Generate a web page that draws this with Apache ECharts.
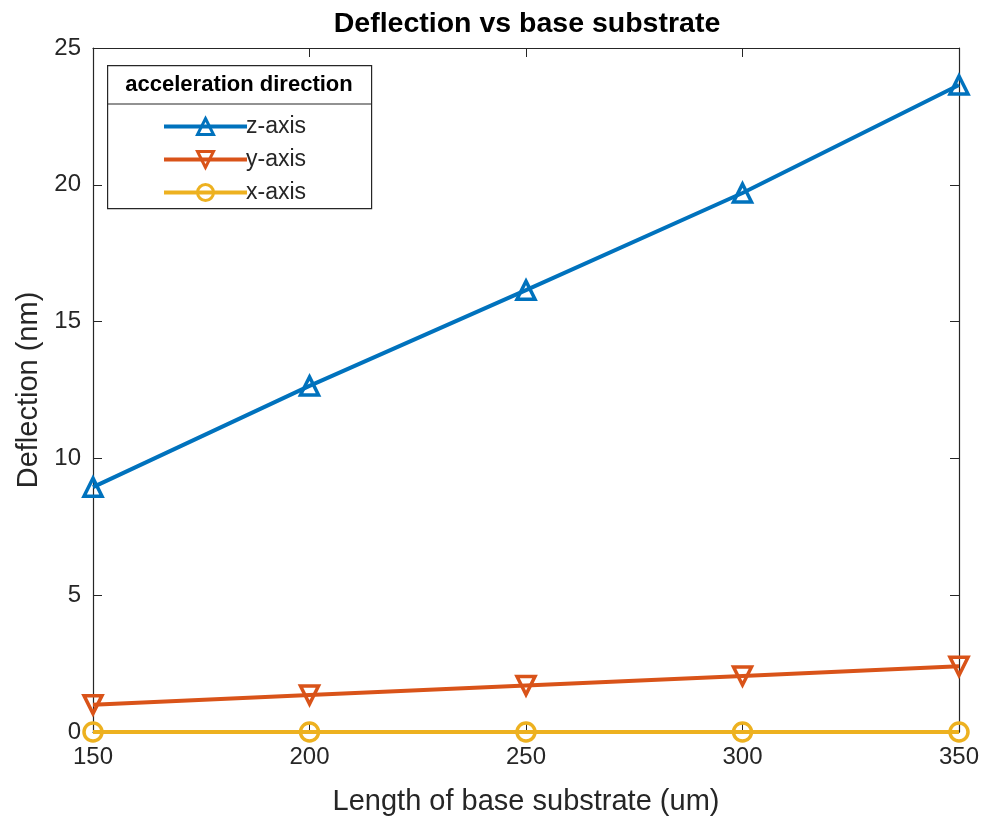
<!DOCTYPE html>
<html><head><meta charset="utf-8">
<script src="https://cdn.jsdelivr.net/npm/echarts@6/dist/echarts.min.js"></script>
<style>html,body{margin:0;padding:0;background:#fff}#c{width:983px;height:821px}</style>
</head><body><div id="c"></div>
<script>
const lengths = [150, 200, 250, 300, 350];
const zAxis = [8.95, 12.65, 16.15, 19.7, 23.65];
const yAxisVals = [1.0, 1.35, 1.7, 2.05, 2.4];
const xAxisVals = [0, 0, 0, 0, 0];
const seriesNames = ['z-axis', 'y-axis', 'x-axis'];
const xTicks = [150, 200, 250, 300, 350];

const font = 'Liberation Sans, Arial, sans-serif';
const axisCol = '#262626';
function pairs(v){ return lengths.map((x,i)=>[x, v[i]]); }
function mk(name, data, color, symbol, rot){
  return {
    name, type:'line', data: pairs(data), symbol, symbolSize: 18, symbolRotate: rot||0,
    lineStyle:{color, width:4}, itemStyle:{color:'transparent', borderColor:color, borderWidth:3.5},
    emphasis:{disabled:true}, z: 3, clip:false
  };
}
const chart = echarts.init(document.getElementById('c'));
const baseAxis = {
  axisLine:{show:true, onZero:false, lineStyle:{color:axisCol, width:1.2}},
  axisTick:{show:true, inside:true, length:9, lineStyle:{color:axisCol}},
  splitLine:{show:false}
};
chart.setOption({
  animation:false,
  title:{text:'Deflection vs base substrate', left:522, textAlign:'center', top:5,
    textStyle:{fontFamily:font, fontSize:28.5, fontWeight:'bold', color:'#000'}},
  grid:{left:93, right:24, top:48, bottom:88},
  xAxis:[
    Object.assign({type:'value', min:150, max:350, interval:50, position:'bottom',
      name:'Length of base substrate (um)', nameLocation:'middle', nameGap:55,
      nameTextStyle:{fontFamily:font, fontSize:29, color:axisCol},
      axisLabel:{fontFamily:font, fontSize:24, color:axisCol, margin:13,
        formatter:v=> xTicks.includes(v) ? String(v) : ''}}, baseAxis),
    Object.assign({type:'value', min:150, max:350, interval:50, position:'top',
      axisLabel:{show:false}}, baseAxis)
  ],
  yAxis:[
    Object.assign({type:'value', min:0, max:25, interval:5, position:'left',
      name:'Deflection (nm)', nameLocation:'middle', nameGap:49,
      nameTextStyle:{fontFamily:font, fontSize:29, color:axisCol},
      axisLabel:{fontFamily:font, fontSize:24, color:axisCol, margin:12}}, baseAxis),
    Object.assign({type:'value', min:0, max:25, interval:5, position:'right',
      axisLabel:{show:false}}, baseAxis)
  ],
  legend:{
    data: seriesNames, orient:'vertical', left:162, top:115, itemWidth:83, itemHeight:20,
    itemGap:10, z:20, padding:0,
    lineStyle:{width:4},
    itemStyle:{borderWidth:3},
    textStyle:{fontFamily:font, fontSize:23, color:axisCol, padding:[0,0,0,-6]},
    selectedMode:false
  },
  graphic:[
    {type:'rect', left:107, top:65, shape:{width:264, height:143}, style:{fill:'#fff', stroke:axisCol, lineWidth:1.2}, z:1},
    {type:'line', shape:{x1:107, y1:104, x2:371, y2:104}, style:{stroke:axisCol, lineWidth:1.2}, z:2},
    {type:'text', x:239, y:85, style:{text:'acceleration direction', align:'center', verticalAlign:'middle', fontFamily:font, fontSize:22, fontWeight:'bold', fill:'#000'}, z:2}
  ],
  series:[
    mk(seriesNames[0], zAxis, '#0072BD', 'triangle'),
    mk(seriesNames[1], yAxisVals, '#D95319', 'triangle', 180),
    mk(seriesNames[2], xAxisVals, '#EDB120', 'circle')
  ]
});
</script></body></html>
